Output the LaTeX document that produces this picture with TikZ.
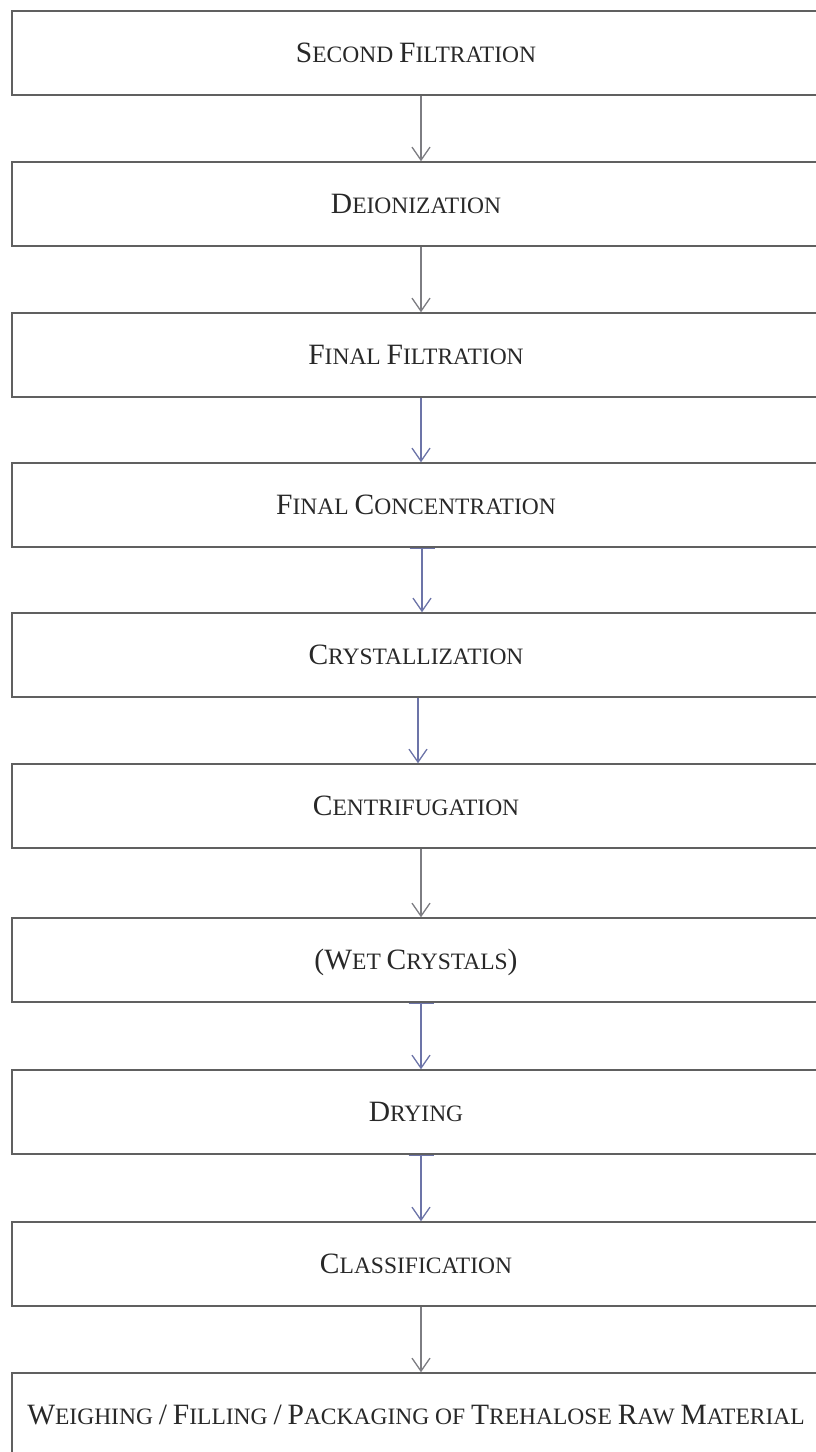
\documentclass[tikz,border=0pt]{standalone}
\usepackage{fontspec}
\setmainfont{Liberation Serif}
\usetikzlibrary{arrows.meta}

\definecolor{boxgray}{RGB}{96,96,96}
\definecolor{txtgray}{RGB}{40,40,40}
\definecolor{arrgray}{RGB}{125,125,130}
\definecolor{arrblue}{RGB}{108,116,168}

% first letter large, rest as small capitals
\newcommand{\scword}[2]{{\fontsize{29.5}{30}\selectfont #1}#2}

\begin{document}
\begin{tikzpicture}[x=1pt, y=-1pt,
  stepbox/.style={draw=boxgray, line width=1.5pt, minimum width=808pt, minimum height=84pt,
    inner sep=0pt, text=txtgray, text height=19.5pt, text depth=0pt,
    font=\fontsize{23.5}{28}\selectfont},
  flow/.style={draw=arrblue, line width=1.2pt, -{Straight Barb[length=13pt,width=18pt,line width=1.3pt]}},
  teeflow/.style={flow, {Bar[width=25pt,line width=1.3pt]}-{Straight Barb[length=13pt,width=18pt,line width=1.3pt]}}]
\useasboundingbox (0,0) rectangle (815,1452);
\node[stepbox] (s1) at (416,53) {\scword{S}{ECOND} \scword{F}{ILTRATION}};
\node[stepbox] (s2) at (416,204) {\scword{D}{EIONIZATION}};
\node[stepbox] (s3) at (416,355) {\scword{F}{INAL} \scword{F}{ILTRATION}};
\node[stepbox] (s4) at (416,505) {\scword{F}{INAL} \scword{C}{ONCENTRATION}};
\node[stepbox] (s5) at (416,655) {\scword{C}{RYSTALLIZATION}};
\node[stepbox] (s6) at (416,806) {\scword{C}{ENTRIFUGATION}};
\node[stepbox] (s7) at (416,960) {\scword{(W}{ET} \scword{C}{RYSTALS}\scword{)}{}};
\node[stepbox] (s8) at (416,1112) {\scword{D}{RYING}};
\node[stepbox] (s9) at (416,1264) {\scword{C}{LASSIFICATION}};
\node[stepbox] (s10) at (416,1415) {\scword{W}{EIGHING} \scword{/}{} \scword{F}{ILLING} \scword{/}{} \scword{P}{ACKAGING} OF \scword{T}{REHALOSE} \scword{R}{AW} \scword{M}{ATERIAL}};
\draw[flow, draw=arrgray] ([xshift=5pt]s1.south) -- ([xshift=5pt]s2.north);
\draw[flow, draw=arrgray] ([xshift=5pt]s2.south) -- ([xshift=5pt]s3.north);
\draw[flow] ([xshift=5pt]s3.south) -- ([xshift=5pt]s4.north);
\draw[teeflow] ([xshift=6pt]s4.south) -- ([xshift=6pt]s5.north);
\draw[flow] ([xshift=2pt]s5.south) -- ([xshift=2pt]s6.north);
\draw[flow, draw=arrgray] ([xshift=5pt]s6.south) -- ([xshift=5pt]s7.north);
\draw[teeflow] ([xshift=5pt]s7.south) -- ([xshift=5pt]s8.north);
\draw[teeflow] ([xshift=5pt]s8.south) -- ([xshift=5pt]s9.north);
\draw[flow, draw=arrgray] ([xshift=5pt]s9.south) -- ([xshift=5pt]s10.north);
\end{tikzpicture}
\end{document}
